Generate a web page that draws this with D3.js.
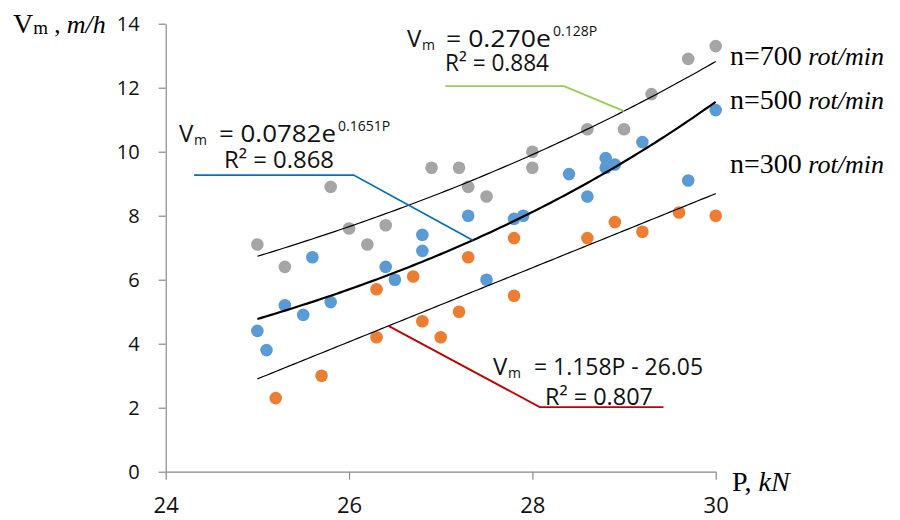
<!DOCTYPE html>
<html><head><meta charset="utf-8">
<script src="https://cdn.jsdelivr.net/npm/d3@7"></script>
<style>body{margin:0;background:#fff}svg{display:block}</style>
</head><body>
<svg id="c" width="900" height="520"></svg>
<script>
// ---- data ----
const xTicks = [24, 26, 28, 30];
const yTicks = [0, 2, 4, 6, 8, 10, 12, 14];
const seriesNames = ["n=700", "n=500", "n=300"];

const P700 = [25.0,25.3,25.8,26.0,26.2,26.4,26.9,27.2,27.3,27.5,28.0,28.0,28.6,29.0,29.3,29.7,30.0];
const V700 = [7.1,6.4,8.9,7.6,7.1,7.7,9.5,9.5,8.9,8.6,10.0,9.5,10.7,10.7,11.8,12.9,13.3];

const P500 = [25.0,25.1,25.3,25.5,25.6,25.8,26.4,26.5,26.8,26.8,27.3,27.5,27.8,27.9,28.4,28.6,28.8,28.8,28.9,29.2,29.7,30.0];
const V500 = [4.4,3.8,5.2,4.9,6.7,5.3,6.4,6.0,7.4,6.9,8.0,6.0,7.9,8.0,9.3,8.6,9.8,9.5,9.6,10.3,9.1,11.3];

const P300 = [25.2,25.7,26.3,26.3,26.7,26.8,27.0,27.2,27.3,27.8,27.8,28.6,28.9,29.2,29.6,30.0];
const V300 = [2.3,3.0,4.2,5.7,6.1,4.7,4.2,5.0,6.7,7.3,5.5,7.3,7.8,7.5,8.1,8.0];

// trend line parameters (as drawn)
const trend700 = {type:"exp", a:0.269, k:0.1288, from:25, to:30};
const trend500 = {type:"exp", a:0.0573, k:0.1769, from:25, to:30};
const trend300 = {type:"lin", m:1.158, b:-26.05, from:25, to:30};

// equation labels
const eqMain = ["= 0.270e", "= 0.0782e", "= 1.158P - 26.05"];
const eqSup = ["0.128P", "0.1651P", ""];
const eqR2 = ["R² = 0.884", "R² = 0.868", "R² = 0.807"];

// leader-line anchors in data units [P, V]; last point lies on the trend line
const leader700P = [27.05, 28.345, 29.0];
const leader700V = [12.05, 12.05];
const leader500P = [24.31, 26.05, 27.35];
const leader500V = [9.27, 9.27];
const leader300P = [29.43, 28.08, 26.43];
const leader300V = [2.02, 2.02];

// ---- drawing ----
const svg = d3.select("#c");
const x = d3.scaleLinear().domain([24, 30]).range([165.7, 715.7]);
const y = d3.scaleLinear().domain([0, 14]).range([471.7, 23.7]);
const axisColor = "#8a8a8a";
const sans = "'Open Sans', 'Noto Sans', sans-serif";
const serif = "'Liberation Serif', 'DejaVu Serif', serif";

const gy = svg.append("g").attr("transform", `translate(${x(24)},0)`)
  .call(d3.axisLeft(y).tickValues(yTicks).tickFormat(d3.format("d")).tickSize(7).tickSizeOuter(0).tickPadding(19));
gy.selectAll("text").style("font-family", sans).style("font-size", "20px").attr("fill", "#111");

const gx = svg.append("g").attr("transform", `translate(0,${y(0)})`)
  .call(d3.axisBottom(x).tickValues(xTicks).tickFormat(d3.format("d")).tickSize(8).tickSizeOuter(0));
gx.selectAll("text").style("font-family", sans).style("font-size", "22px").attr("fill", "#111")
  .attr("y", 41).attr("dy", 0);
svg.selectAll(".domain, .tick line").attr("stroke", axisColor).attr("stroke-width", 1.2);

function fval(t, p){ return t.type === "exp" ? t.a*Math.exp(t.k*p) : t.m*p + t.b; }
function curve(t){ return d3.range(t.from, t.to + 1e-9, 0.05).map(p => [p, fval(t, p)]); }
const line = d3.line().x(d => x(d[0])).y(d => y(d[1]));

const series = [
  {P:P300, V:V300, color:"#ED7D31"},
  {P:P500, V:V500, color:"#5B9BD5"},
  {P:P700, V:V700, color:"#A5A5A5"}
];
series.forEach(s => {
  svg.append("g").selectAll("circle").data(s.P.map((p,i)=>[p, s.V[i]])).join("circle")
    .attr("cx", d => x(d[0])).attr("cy", d => y(d[1])).attr("r", 6.3).attr("fill", s.color);
});

svg.append("path").datum(curve(trend700)).attr("d", line).attr("fill","none").attr("stroke","#000").attr("stroke-width",1.2);
svg.append("path").datum(curve(trend500)).attr("d", line).attr("fill","none").attr("stroke","#000").attr("stroke-width",2.2);
svg.append("path").datum(curve(trend300)).attr("d", line).attr("fill","none").attr("stroke","#000").attr("stroke-width",1.2);

function leader(Ps, Vs, t, color){
  const pts = Ps.map((p,i) => [p, i < Vs.length ? Vs[i] : fval(t, p)]);
  svg.append("path").datum(pts).attr("d", d3.line().x(d=>x(d[0])).y(d=>y(d[1])))
    .attr("fill","none").attr("stroke", color).attr("stroke-width", 1.8);
}
leader(leader700P, leader700V, trend700, "#92D050");
leader(leader500P, leader500V, trend500, "#0070C0");
leader(leader300P, leader300V, trend300, "#C00000");

// text helper
function txt(px, py, s, size, len){
  const t = svg.append("text").attr("x", px).attr("y", py)
    .style("font-family", sans).style("font-size", size + "px").attr("fill", "#111").text(s);
  if (len) t.attr("textLength", len).attr("lengthAdjust", "spacingAndGlyphs");
  return t;
}
// layout of each equation block
const eqLayout = [
  {vx:407, base:47, mx:446, mlen:105, sx:553, sbase:36, rx:445, rbase:71, rlen:104},
  {vx:179, base:142, mx:219, mlen:117, sx:338, sbase:131, rx:224, rbase:168, rlen:110},
  {vx:493, base:375, mx:534, mlen:169, sx:0, sbase:0, rx:545, rbase:405, rlen:108}
];
eqLayout.forEach((L, i) => {
  txt(L.vx, L.base, "V", 24);
  txt(L.vx + 15, L.base + 3, "m", 14);
  txt(L.mx, L.base, eqMain[i], 24, L.mlen);
  if (eqSup[i]) txt(L.sx, L.sbase, eqSup[i], 14);
  txt(L.rx, L.rbase, eqR2[i], 23, L.rlen);
});

// series labels
[[65, seriesNames[0]], [109, seriesNames[1]], [173, seriesNames[2]]].forEach(([b, n]) => {
  const t = svg.append("text").attr("x", 730).attr("y", b).style("font-family", serif).style("font-size", "28px").attr("fill", "#000");
  t.append("tspan").text(n);
  t.append("tspan").style("font-style", "italic").style("font-size", "26px").text(" rot/min");
});

// axis titles
const yt = svg.append("text").attr("x", 13).attr("y", 33).style("font-family", serif).style("font-size", "28px").attr("fill", "#000");
yt.append("tspan").text("V");
yt.append("tspan").attr("dy", 1).style("font-size", "19px").text("m");
yt.append("tspan").attr("dy", -1).style("font-size", "25px").text(" , ");
yt.append("tspan").style("font-style", "italic").style("font-size", "26px").text("m/h");

const xt = svg.append("text").attr("x", 732).attr("y", 491).style("font-family", serif).style("font-size", "28px").attr("fill", "#000");
xt.append("tspan").text("P, ");
xt.append("tspan").style("font-style", "italic").text("kN");
</script>
</body></html>
